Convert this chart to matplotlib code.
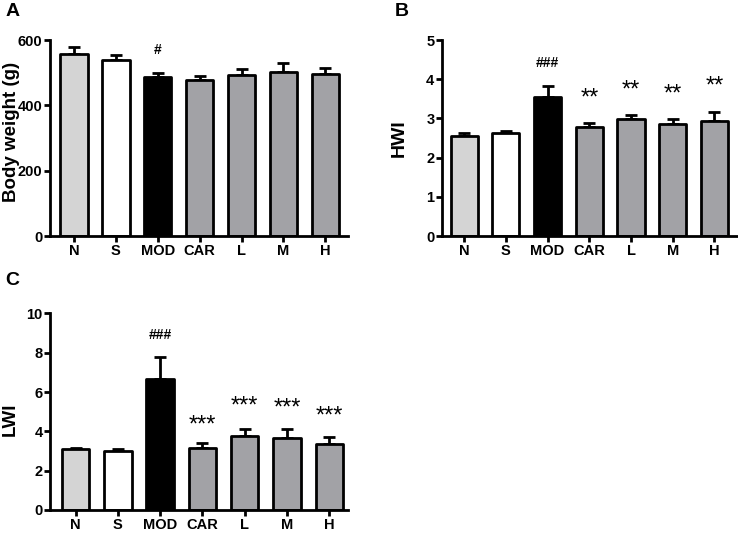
import matplotlib.pyplot as plt
import numpy as np

plt.rcParams['font.family'] = ['Liberation Sans', 'DejaVu Sans']
plt.rcParams['font.weight'] = 'bold'

groups = ['N', 'S', 'MOD', 'CAR', 'L', 'M', 'H']
colors = ['#d4d4d4', '#ffffff', '#000000', '#a2a2a6', '#a2a2a6', '#a2a2a6', '#a2a2a6']

# panel A: body weight
bw = [557, 539, 486, 477, 493, 502, 497]
bw_err = [22, 15, 14, 14, 17, 27, 17]
bw_marks = ['', '', '#', '', '', '', '']
bw_mark_y = [0, 0, 570, 0, 0, 0, 0]

# panel B: HWI
hwi = [2.55, 2.62, 3.54, 2.79, 2.98, 2.87, 2.94]
hwi_err = [0.09, 0.06, 0.29, 0.10, 0.10, 0.12, 0.22]
hwi_marks = ['', '', '###', '**', '**', '**', '**']
hwi_mark_y = [0, 0, 4.42, 3.50, 3.70, 3.62, 3.81]

# panel C: LWI
lwi = [3.09, 3.02, 6.66, 3.17, 3.78, 3.64, 3.36]
lwi_err = [0.06, 0.06, 1.10, 0.22, 0.34, 0.48, 0.37]
lwi_marks = ['', '', '###', '***', '***', '***', '***']
lwi_mark_y = [0, 0, 8.9, 4.3, 5.24, 5.15, 4.73]

fig = plt.figure(figsize=(7.38, 5.34), dpi=100)


def panel(rect, vals, errs, marks, mark_y, ylim, yticks, ylabel, xlim, lab_size, lab_xy):
    ax = fig.add_axes(rect)
    x = np.arange(len(groups))
    ax.bar(x, vals, width=0.65, color=colors, edgecolor='black', linewidth=2,
           joinstyle='round', zorder=2)
    ax.errorbar(x, vals, yerr=[np.zeros(len(vals)), errs], fmt='none',
                ecolor='black', elinewidth=2, capsize=4, capthick=2, zorder=1)
    for xi, m, my in zip(x, marks, mark_y):
        if m.startswith('#'):
            ax.text(xi, my, m, ha='center', va='center', fontsize=10, fontweight='bold')
        elif m:
            ax.text(xi, my, m, ha='center', va='center', fontsize=17, fontweight='normal')
    ax.set_xlim(*xlim)
    ax.set_ylim(*ylim)
    ax.set_yticks(yticks)
    ax.set_xticks(x)
    ax.set_xticklabels(groups)
    ax.set_ylabel(ylabel, fontsize=lab_size, fontweight='bold')
    ax.yaxis.set_label_coords(*lab_xy)
    for s in ['top', 'right']:
        ax.spines[s].set_visible(False)
    for s in ['left', 'bottom']:
        ax.spines[s].set_linewidth(2)
    ax.tick_params(width=2, length=4, labelsize=10.5, pad=1.5)
    return ax


panel([0.068, 0.558, 0.404, 0.367], bw, bw_err, bw_marks, bw_mark_y,
      (0, 600), [0, 200, 400, 600], 'Body weight (g)', (-0.57, 6.55),
      13.5, (-0.102, 0.53))
panel([0.599, 0.558, 0.399, 0.367], hwi, hwi_err, hwi_marks, hwi_mark_y,
      (0, 5), [0, 1, 2, 3, 4, 5], 'HWI', (-0.53, 6.53),
      14, (-0.115, 0.5))
panel([0.068, 0.045, 0.404, 0.368], lwi, lwi_err, lwi_marks, lwi_mark_y,
      (0, 10), [0, 2, 4, 6, 8, 10], 'LWI', (-0.6, 6.45),
      13.5, (-0.105, 0.46))

fig.text(0.007, 0.979, 'A', fontsize=14, fontweight='bold', va='center')
fig.text(0.535, 0.979, 'B', fontsize=14, fontweight='bold', va='center')
fig.text(0.007, 0.474, 'C', fontsize=14, fontweight='bold', va='center')

fig.savefig('out.png', dpi=100)
